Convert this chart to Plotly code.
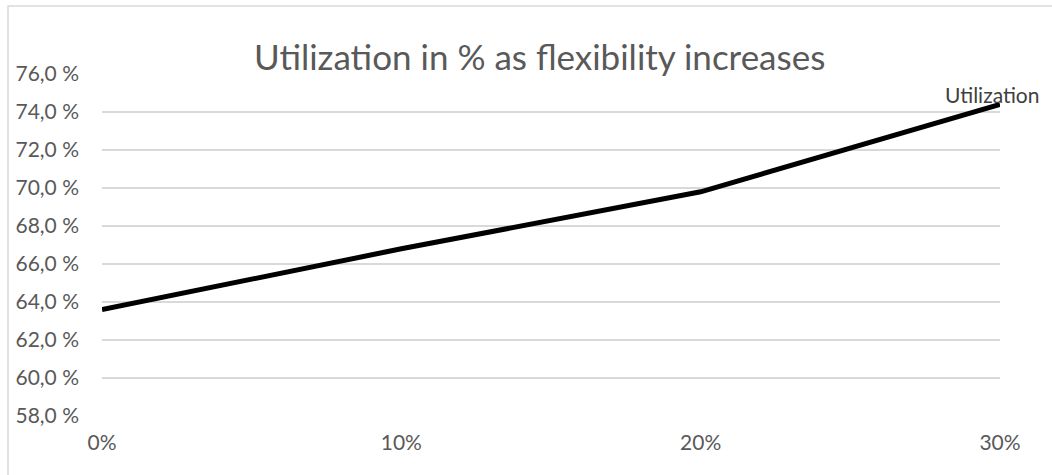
import plotly.graph_objects as go

categories = ["0%", "10%", "20%", "30%"]
utilization = [63.6, 66.8, 69.8, 74.4]
y_ticks = [58, 60, 62, 64, 66, 68, 70, 72, 74, 76]
y_tick_labels = ["58,0 %", "60,0 %", "62,0 %", "64,0 %", "66,0 %", "68,0 %",
                 "70,0 %", "72,0 %", "74,0 %", "76,0 %"]
series_name = "Utilization"
title = "Utilization in % as flexibility increases"

FONT = "Lato, 'Open Sans', sans-serif"
GRAY = "#595959"

fig = go.Figure()
fig.add_trace(go.Scatter(
    x=list(range(len(categories))), y=utilization, mode="lines",
    line=dict(color="black", width=5), name=series_name, showlegend=False,
))
fig.add_annotation(
    x=len(categories) - 1, y=utilization[-1], text=series_name,
    showarrow=False, xanchor="center", yanchor="bottom", yshift=-5, xshift=-8,
    font=dict(size=21, color="#404040", family=FONT),
)
fig.update_layout(
    width=1052, height=475,
    margin=dict(l=102, r=52, t=74, b=59),
    paper_bgcolor="white", plot_bgcolor="white",
    title=dict(text=title, x=0.513, xanchor="center", y=1 - 70 / 475, yanchor="bottom",
               font=dict(size=35, color=GRAY, family=FONT)),
    xaxis=dict(range=[0, len(categories) - 1], tickvals=list(range(len(categories))),
               ticktext=categories, showgrid=False, zeroline=False, showline=False,
               tickfont=dict(size=21, color=GRAY, family=FONT), ticklabelstandoff=12),
    yaxis=dict(range=[58, 76], tickvals=y_ticks, ticktext=y_tick_labels,
               showgrid=True, gridcolor="#d9d9d9", gridwidth=1.5, zeroline=False,
               showline=False, tickfont=dict(size=21, color=GRAY, family=FONT),
               ticklabelstandoff=22),
)
fig.add_shape(type="rect", xref="paper", yref="paper",
              x0=-94 / 898, x1=1.2, y0=-0.3, y1=1 + 68 / 342,
              line=dict(color="#d9d9d9", width=1.5), layer="below")
fig.write_html("out.html")
